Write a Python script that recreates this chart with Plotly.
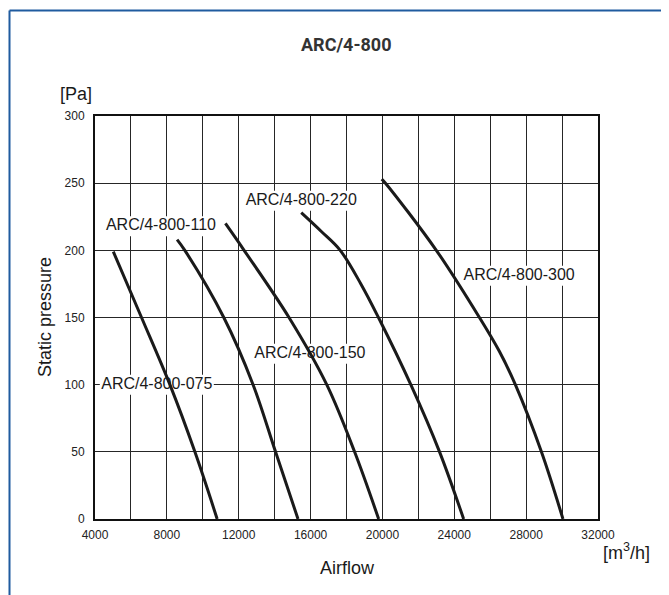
import plotly.graph_objects as go

# ---------------- data ----------------
series_names = ["ARC/4-800-075", "ARC/4-800-110", "ARC/4-800-150", "ARC/4-800-220", "ARC/4-800-300"]

flow_075 = [5020, 6590, 8170, 9560, 10800]
pres_075 = [199, 150, 100, 50, 0]

flow_110 = [8570, 9000, 11170, 12800, 14050, 15300]
pres_110 = [208, 200, 150, 100, 50, 0]

flow_150 = [11260, 12300, 14800, 16900, 18450, 19790]
pres_150 = [220, 200, 150, 100, 50, 0]

flow_220 = [15480, 16600, 17650, 18800, 19780, 21580, 23180, 24520]
pres_220 = [228, 214, 200, 175, 150, 100, 50, 0]

flow_300 = [19960, 20170, 23000, 25400, 26500, 27400, 28850, 30050]
pres_300 = [253, 250, 200, 150, 125, 100, 50, 0]

label_flow = [7440, 7670, 15960, 15480, 27610]
label_pres = [100, 218, 123, 237, 181]

x_tick_vals = [4000, 8000, 12000, 16000, 20000, 24000, 28000, 32000]
x_tick_text = ["4000", "8000", "12000", "16000", "20000", "24000", "28000", "32000"]
x_minor_vals = [6000, 10000, 14000, 18000, 22000, 26000, 30000]
y_tick_vals = [0, 50, 100, 150, 200, 250, 300]
y_tick_text = ["0", "50", "100", "150", "200", "250", "300"]

title_text = "ARC/4-800"
x_title = "Airflow"
y_title = "Static pressure"
x_unit = "[m<sup>3</sup>/h]"
y_unit = "[Pa]"

# ---------------- figure ----------------
W, H = 669, 595
OFF = 8  # page body margin in the screenshot
ML, MR, MT, MB = 87, 79, 108, 84
PW, PH = W - ML - MR, H - MT - MB


def px(xp):
    """screen x (page) -> paper x"""
    return (xp - OFF - ML) / PW


def py(yp):
    """screen y (page) -> paper y"""
    return (H - MB - (yp - OFF)) / PH


FONT = "Liberation Sans, Arial, sans-serif"
INK = "#1a1a1a"
GRID = "#262626"

fig = go.Figure()

# labels as text (drawn under curves)
fig.add_trace(go.Scatter(
    x=label_flow, y=label_pres, text=series_names, mode="text",
    textposition="middle center",
    textfont=dict(family=FONT, size=16, color="#1a1a1a"),
    hoverinfo="skip", showlegend=False,
))

curves = [(flow_075, pres_075), (flow_110, pres_110), (flow_150, pres_150),
          (flow_220, pres_220), (flow_300, pres_300)]
for name, (fx, fy) in zip(series_names, curves):
    fig.add_trace(go.Scatter(
        x=fx, y=fy, mode="lines", name=name,
        line=dict(color=INK, width=3, shape="spline", smoothing=1.0),
        showlegend=False,
    ))

shapes = []
# white boxes behind labels (above grid, below traces)
for lx, ly in zip(label_flow, label_pres):
    shapes.append(dict(
        type="rect", layer="between", xref="x", yref="y",
        xsizemode="pixel", ysizemode="pixel", xanchor=lx, yanchor=ly,
        x0=-57, x1=57, y0=-10, y1=10,
        fillcolor="white", line=dict(width=0),
    ))
# outer frame (figure border)
shapes.append(dict(type="line", xref="paper", yref="paper",
                   x0=px(9.5), x1=px(W + 20), y0=py(10.5), y1=py(10.5),
                   line=dict(color="#1f5b9f", width=2), layer="above"))
shapes.append(dict(type="line", xref="paper", yref="paper",
                   x0=px(9.5), x1=px(9.5), y0=py(10.5), y1=py(H + 20),
                   line=dict(color="#1f5b9f", width=2), layer="above"))

annotations = [
    dict(text=title_text, xref="paper", yref="paper", x=px(346), y=py(44),
         showarrow=False, xanchor="center", yanchor="middle",
         font=dict(family="Roboto, sans-serif", size=18, color="#333333", weight="bold")),
    dict(text=y_unit, xref="paper", yref="paper", x=px(76), y=py(94),
         showarrow=False, xanchor="center", yanchor="middle",
         font=dict(family=FONT, size=18, color="#1a1a1a")),
    dict(text=x_unit, xref="paper", yref="paper", x=px(626), y=py(551),
         showarrow=False, xanchor="center", yanchor="middle",
         font=dict(family=FONT, size=18, color="#1a1a1a")),
    dict(text=y_title, xref="paper", yref="paper", x=px(45), y=py(317),
         showarrow=False, xanchor="center", yanchor="middle", textangle=-90,
         font=dict(family=FONT, size=18, color="#1a1a1a")),
    dict(text=x_title, xref="paper", yref="paper", x=px(347), y=py(568),
         showarrow=False, xanchor="center", yanchor="middle",
         font=dict(family=FONT, size=18, color="#1a1a1a")),
]

axis_common = dict(
    showgrid=True, gridcolor=GRID, gridwidth=1.3,
    showline=True, linecolor="#111111", linewidth=2, mirror=True,
    zeroline=False, ticks="", tickfont=dict(family=FONT, size=12, color="#222222"),
    fixedrange=True,
)

fig.update_layout(
    width=W, height=H,
    margin=dict(l=ML, r=MR, t=MT, b=MB, pad=0),
    paper_bgcolor="white", plot_bgcolor="white",
    xaxis=dict(range=[4000, 32000], tickmode="array", tickvals=x_tick_vals,
               ticktext=x_tick_text, ticklabelstandoff=4,
               minor=dict(tickmode="array", tickvals=x_minor_vals, showgrid=True,
                          gridcolor=GRID, gridwidth=1.3, ticks=""),
               **axis_common),
    yaxis=dict(range=[0, 300], tickmode="array", tickvals=y_tick_vals,
               ticktext=y_tick_text, ticklabelstandoff=6, **axis_common),
    shapes=shapes, annotations=annotations, showlegend=False,
)

fig.write_html("out.html")
